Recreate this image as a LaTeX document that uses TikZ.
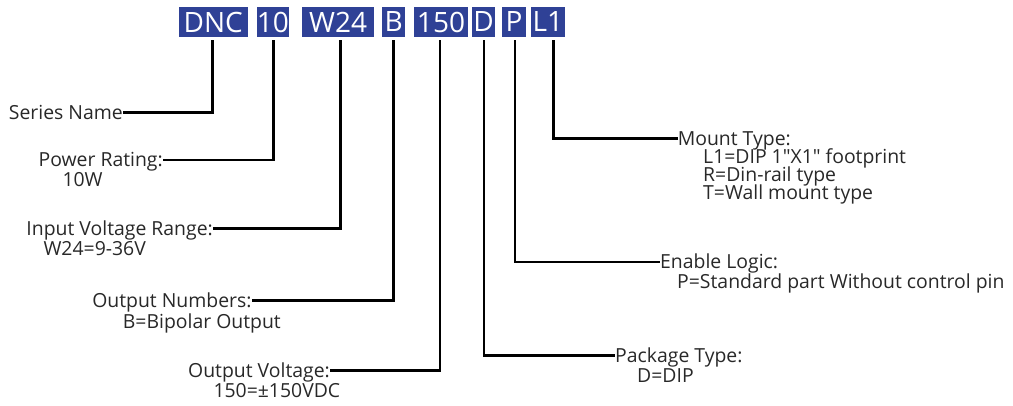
\documentclass[tikz,border=0pt]{standalone}
\usepackage{fontspec}
\newfontfamily\lbl{Open Sans}
\definecolor{boxblue}{RGB}{47,65,150}
\definecolor{txt}{RGB}{40,40,40}
\begin{document}
\begin{tikzpicture}[x=1pt,y=-1pt,
  code/.style={fill=boxblue,text=white,minimum height=30pt,inner sep=0pt,font=\lbl\fontsize{28}{28}\selectfont},
  ttl/.style={inner sep=0pt,text height=13.85pt,text depth=0pt,font=\lbl\fontsize{19.4}{19.4}\selectfont,text=txt},
  val/.style={inner sep=0pt,anchor=base west,font=\lbl\fontsize{19.4}{19.4}\selectfont,text=txt},
  conn/.style={line width=2.5pt,draw=black}]
\useasboundingbox (0,0) rectangle (1013,405);
% code boxes
\node[code,minimum width=68.7pt] (dnc) at (213.3,22) {DNC};
\node[code,minimum width=31pt]   (b10) at (272.8,22) {10};
\node[code,minimum width=71.7pt] (w24) at (338.2,22) {W24};
\node[code,minimum width=22.7pt] (bb)  at (393.6,22) {B};
\node[code,minimum width=53.4pt] (b150) at (441,22) {150};
\node[code,minimum width=22.7pt] (bd)  at (483.6,22) {D};
\node[code,minimum width=23.4pt] (bp)  at (514,22) {P};
\node[code,minimum width=34.3pt] (bl1) at (547.8,22) {L1};
% labels
\node[ttl,anchor=east] (sn) at (123,112.7) {Series Name};
\node[ttl,anchor=east] (pr) at (163,160) {Power Rating:};
\node[val] (prv) at (62.3,186) {10W};
\node[ttl,anchor=east] (ivr) at (213,228.3) {Input Voltage Range:};
\node[val] (ivrv) at (43.3,255) {W24=9-36V};
\node[ttl,anchor=east] (on) at (251.7,300.7) {Output Numbers:};
\node[val] (onv) at (122.7,328) {B=Bipolar Output};
\node[ttl,anchor=east] (ov) at (330,370.7) {Output Voltage:};
\node[val] (ovv) at (213.3,397) {150=±150VDC};
\node[ttl,anchor=west] (pt) at (615,355.3) {Package Type:};
\node[val] (ptv) at (637,382) {D=DIP};
\node[ttl,anchor=west] (el) at (660,262) {Enable Logic:};
\node[val] (elv) at (677,288) {P=Standard part Without control pin};
\node[ttl,anchor=west] (mt) at (677.6,138.7) {Mount Type:};
\node[val] (mt1) at (703,163) {L1=DIP 1"X1" footprint};
\node[val] (mt2) at (703,181) {R=Din-rail type};
\node[val] (mt3) at (703,199) {T=Wall mount type};
% connectors
\draw[conn] ([xshift=-1pt,yshift=-3pt]dnc.south) |- (sn.east);
\draw[conn] ([xshift=0.5pt,yshift=-3pt]b10.south) |- (pr.east);
\draw[conn] ([xshift=2.5pt,yshift=-3pt]w24.south) |- (ivr.east);
\draw[conn] ([yshift=-3pt]bb.south) |- (on.east);
\draw[conn] ([xshift=-1pt,yshift=-3pt]b150.south) |- (ov.east);
\draw[conn] ([xshift=0.4pt,yshift=-3pt]bd.south) |- (pt.west);
\draw[conn] ([xshift=1pt,yshift=-3pt]bp.south) |- (el.west);
\draw[conn] ([xshift=5.5pt,yshift=-3pt]bl1.south) |- (mt.west);
\end{tikzpicture}
\end{document}
